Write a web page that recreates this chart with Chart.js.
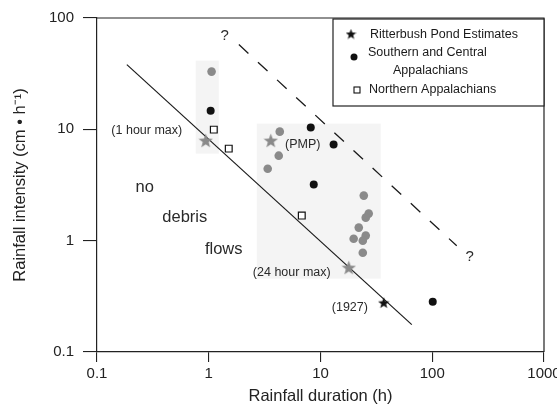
<!DOCTYPE html>
<html><head><meta charset="utf-8">
<script src="https://cdn.jsdelivr.net/npm/chart.js@4"></script>
<style>html,body{margin:0;padding:0;background:#fff}#wrap{width:557px;height:407px}</style>
</head><body><div id="wrap"><canvas id="c" width="557" height="407"></canvas></div>
<script>
// ---- data ----
const xTicks = [0.1, 1, 10, 100, 1000];
const yTicks = [0.1, 1, 10, 100];
const ritterbushBlack = [{x: 36.8, y: 0.277}];
const ritterbushGray = [{x: 0.94, y: 7.92}, {x: 3.59, y: 7.92}, {x: 17.9, y: 0.572}];
const southernBlack = [
  {x: 1.04, y: 14.7}, {x: 8.18, y: 10.4}, {x: 13.1, y: 7.29},
  {x: 8.7, y: 3.19}, {x: 101, y: 0.283}
];
const southernGray = [
  {x: 1.06, y: 33.0}, {x: 4.32, y: 9.53}, {x: 4.23, y: 5.80}, {x: 3.37, y: 4.43},
  {x: 24.4, y: 2.54}, {x: 27.0, y: 1.75}, {x: 25.4, y: 1.61}, {x: 22.0, y: 1.31},
  {x: 25.4, y: 1.11}, {x: 19.8, y: 1.04}, {x: 23.9, y: 1.0}, {x: 23.9, y: 0.78}
];
const northern = [{x: 1.11, y: 9.94}, {x: 1.51, y: 6.71}, {x: 6.8, y: 1.68}];
const thresholdLine = [{x: 0.185, y: 38.1}, {x: 65.6, y: 0.176}];
const upperLine = [{x: 1.86, y: 57.7}, {x: 165.6, y: 0.90}];
const shadedRegions = [
  {x0: 0.765, x1: 1.23, y0: 6.05, y1: 41.4},
  {x0: 2.69, x1: 34.6, y0: 0.456, y1: 11.25}
];
const annotations = [
  {text: '(1 hour max)', x: 0.279, y: 9.73, size: 12.5},
  {text: '(PMP)', x: 6.94, y: 7.29, size: 12.5},
  {text: '(24 hour max)', x: 5.53, y: 0.516, size: 12.5},
  {text: '(1927)', x: 18.3, y: 0.25, size: 12.5},
  {text: '?', x: 1.39, y: 69.5, size: 15},
  {text: '?', x: 216.7, y: 0.718, size: 15},
  {text: 'no', x: 0.267, y: 2.99, size: 16.5},
  {text: 'debris', x: 0.61, y: 1.61, size: 16.5},
  {text: 'flows', x: 1.36, y: 0.83, size: 16.5}
];
const legendItems = ['Ritterbush Pond Estimates', ['Southern and Central', 'Appalachians'], 'Northern Appalachians'];

const FONT = "'Liberation Sans', Arial, Helvetica, sans-serif";
const BLACK = '#111';
const GRAY = '#8a8a8a';

function makeStar(size, color) {
  const c = document.createElement('canvas');
  c.width = size; c.height = size;
  const g = c.getContext('2d');
  const cx = size / 2, cy = size / 2 + size * 0.04, R = size / 2, r = R * 0.42;
  g.beginPath();
  for (let i = 0; i < 10; i++) {
    const a = -Math.PI / 2 + i * Math.PI / 5;
    const rad = i % 2 === 0 ? R : r;
    g.lineTo(cx + rad * Math.cos(a), cy + rad * Math.sin(a));
  }
  g.closePath();
  g.fillStyle = color;
  g.fill();
  return c;
}
const starBlack = makeStar(12, BLACK);
const starGray = makeStar(15, GRAY);
const starLegend = makeStar(11, BLACK);

const framePlugin = {
  id: 'frame',
  beforeDatasetsDraw(chart) {
    const {ctx, scales: {x, y}} = chart;
    ctx.save();
    ctx.fillStyle = '#f4f4f4';
    shadedRegions.forEach(r => {
      const l = x.getPixelForValue(r.x0), rr = x.getPixelForValue(r.x1);
      const t = y.getPixelForValue(r.y1), b = y.getPixelForValue(r.y0);
      ctx.fillRect(l, t, rr - l, b - t);
    });
    ctx.restore();
  },
  afterDatasetsDraw(chart) {
    const {ctx, chartArea: a, scales: {x, y}} = chart;
    ctx.save();
    ctx.fillStyle = '#2a2a2a';
    ctx.textAlign = 'center';
    ctx.textBaseline = 'middle';
    annotations.forEach(n => {
      ctx.font = n.size + 'px ' + FONT;
      ctx.fillText(n.text, x.getPixelForValue(n.x), y.getPixelForValue(n.y));
    });
    // top & right frame
    ctx.strokeStyle = '#222';
    ctx.lineWidth = 1.2;
    ctx.beginPath();
    ctx.moveTo(a.left, a.top); ctx.lineTo(a.right, a.top); ctx.lineTo(a.right, a.bottom);
    ctx.stroke();
    // legend box
    const L = a.right - 211, T = a.top + 1, R = a.right, B = a.top + 88;
    ctx.fillStyle = '#fff';
    ctx.fillRect(L, T, R - L, B - T);
    ctx.strokeRect(L, T, R - L, B - T);
    ctx.fillStyle = '#1a1a1a';
    ctx.font = '12.5px ' + FONT;
    ctx.textAlign = 'left';
    ctx.drawImage(starLegend, L + 18 - 5.5, T + 15 - 5.5);
    ctx.fillText(legendItems[0], L + 37, T + 16);
    ctx.beginPath(); ctx.arc(L + 21, T + 38, 3.5, 0, Math.PI * 2); ctx.fillStyle = BLACK; ctx.fill();
    ctx.fillStyle = '#1a1a1a';
    ctx.fillText(legendItems[1][0], L + 35, T + 34);
    ctx.fillText(legendItems[1][1], L + 60, T + 52);
    ctx.lineWidth = 1.1;
    ctx.strokeStyle = BLACK;
    ctx.strokeRect(L + 21, T + 68, 6, 6);
    ctx.fillText(legendItems[2], L + 36, T + 71);
    ctx.restore();
  }
};

new Chart(document.getElementById('c'), {
  type: 'scatter',
  data: {
    datasets: [
      {data: thresholdLine, showLine: true, borderColor: '#1a1a1a', borderWidth: 1.2, pointRadius: 0, order: 5},
      {data: upperLine, showLine: true, borderColor: '#1a1a1a', borderWidth: 1.3, borderDash: [13, 13], pointRadius: 0, order: 5},
      {data: southernGray, pointStyle: 'circle', pointRadius: 4.3, backgroundColor: GRAY, borderColor: GRAY, borderWidth: 0},
      {data: southernBlack, pointStyle: 'circle', pointRadius: 4, backgroundColor: BLACK, borderColor: BLACK, borderWidth: 0},
      {data: northern, pointStyle: 'rect', pointRadius: 4.8, backgroundColor: '#fff', borderColor: BLACK, borderWidth: 1.2},
      {data: ritterbushGray, pointStyle: starGray, pointRadius: 7},
      {data: ritterbushBlack, pointStyle: starBlack, pointRadius: 6}
    ]
  },
  options: {
    responsive: false,
    animation: false,
    layout: {padding: {left: 0, right: 13, top: 18, bottom: 0}},
    plugins: {legend: {display: false}, tooltip: {enabled: false}},
    scales: {
      x: {
        type: 'logarithmic', min: 0.1, max: 1000,
        afterBuildTicks: s => { s.ticks = xTicks.map(v => ({value: v, major: true})); },
        afterFit: s => { s.height = 55; s.paddingLeft = 0; s.paddingRight = 0; },
        ticks: {callback: v => String(v), font: {family: FONT, size: 15}, color: '#222', padding: 3, maxRotation: 0, autoSkip: false},
        grid: {drawOnChartArea: false, drawTicks: true, tickLength: 10, color: '#222', lineWidth: 1.1},
        border: {display: true, color: '#222', width: 1.2},
        title: {display: true, text: 'Rainfall duration (h)', font: {family: FONT, size: 16.5}, color: '#222', padding: {top: 0, bottom: 1}}
      },
      y: {
        type: 'logarithmic', min: 0.1, max: 100,
        afterBuildTicks: s => { s.ticks = yTicks.map(v => ({value: v, major: true})); },
        afterFit: s => { s.width = 97; s.paddingTop = 0; s.paddingBottom = 0; },
        ticks: {callback: v => String(v), font: {family: FONT, size: 15}, color: '#222', padding: 9, autoSkip: false},
        grid: {drawOnChartArea: false, drawTicks: true, tickLength: 14, color: '#222', lineWidth: 1.1},
        border: {display: true, color: '#222', width: 1.2},
        title: {display: true, text: 'Rainfall intensity (cm • h⁻¹)', font: {family: FONT, size: 16.5}, color: '#222', padding: {top: 11, bottom: 0}}
      }
    }
  },
  plugins: [framePlugin]
});
</script>
</body></html>
